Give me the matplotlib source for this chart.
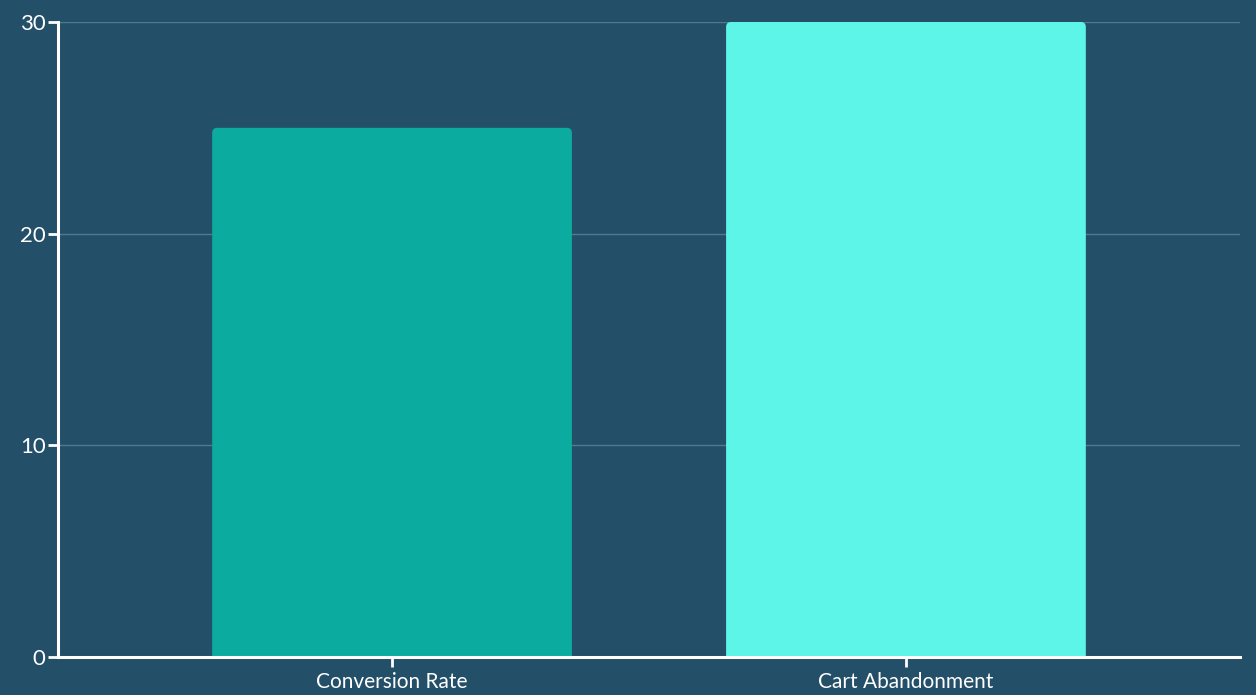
import matplotlib
matplotlib.use("Agg")
import matplotlib.pyplot as plt
from matplotlib.patches import FancyBboxPatch

categories = ["Conversion Rate", "Cart Abandonment"]
values = [25, 30]
colors = ["#0cab9f", "#5cf5e8"]
yticks = [0, 10, 20, 30]

BG = "#234f69"
plt.rcParams['font.family'] = ['Lato', 'DejaVu Sans']

fig = plt.figure(figsize=(12.56, 6.95), dpi=100, facecolor=BG)
ax = fig.add_axes([58/1256, 1 - 657/695, (1240-58)/1256, (657-22)/695])
ax.set_facecolor(BG)

x = list(range(len(categories)))
ax.set_xlim(-0.65, len(categories) - 0.35)
ax.set_ylim(0, 30)

ax.set_yticks(yticks)
ax.grid(axis='y', color='#5d8597', linewidth=1, alpha=0.8)
ax.set_axisbelow(True)

bars = ax.bar(x, values, width=0.7, color=colors, zorder=2)
fig.canvas.draw()
# pixel -> data scale for rounded corners
p0 = ax.transData.inverted().transform((0, 0))
p1 = ax.transData.inverted().transform((1, 1))
dx = p1[0] - p0[0]
dy = p1[1] - p0[1]
r = 5
for b, c in zip(bars, colors):
    bx, by, bw, bh = b.get_x(), b.get_y(), b.get_width(), b.get_height()
    b.remove()
    fb = FancyBboxPatch((bx + r*dx, by - 10*dy), bw - 2*r*dx, bh + 10*dy - r*dy,
                        boxstyle=f"round,pad={r*dx},rounding_size={r*dx}",
                        mutation_aspect=dy/dx, facecolor=c, edgecolor='none',
                        zorder=2, clip_on=True)
    ax.add_patch(fb)

ax.set_xticks(x)
ax.set_xticklabels(categories)

for s in ['top', 'right']:
    ax.spines[s].set_visible(False)
for s in ['left', 'bottom']:
    ax.spines[s].set_color('white')
    ax.spines[s].set_linewidth(2.2)
    ax.spines[s].set_zorder(3)
ax.spines['bottom'].set_bounds(-0.65, len(categories) - 0.35)

ax.tick_params(axis='both', colors='white', width=2, length=7,
               labelcolor='white')
ax.tick_params(axis='x', labelsize=15, pad=4)
ax.tick_params(axis='y', labelsize=16, pad=2)

fig.savefig("out.png", dpi=100, facecolor=BG)
